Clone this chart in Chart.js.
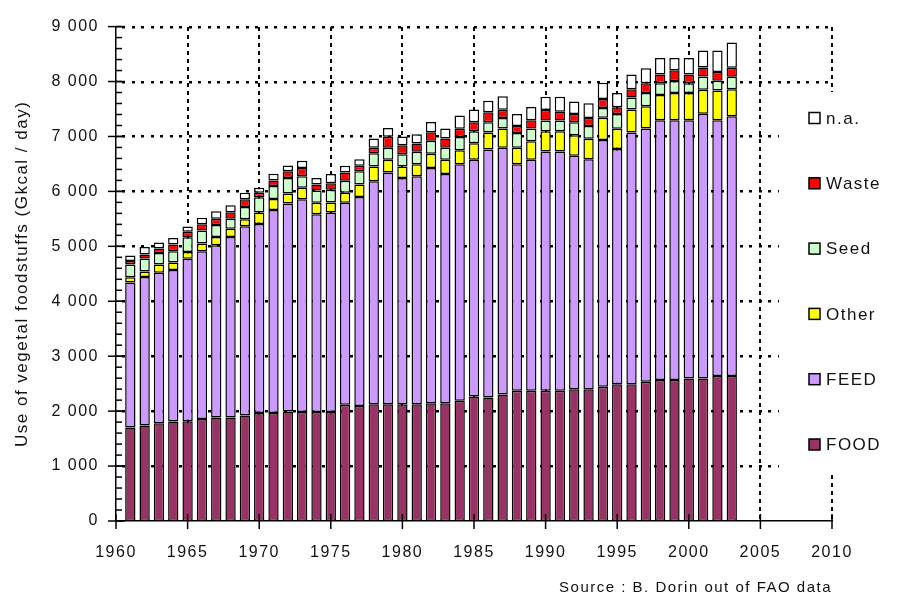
<!DOCTYPE html>
<html><head><meta charset="utf-8">
<script src="https://cdn.jsdelivr.net/npm/chart.js@4.4.1/dist/chart.umd.min.js"></script>
<style>html,body{margin:0;padding:0;background:#fff}#wrap{position:relative;width:899px;height:597px}</style>
</head><body><div id="wrap"><canvas id="c" width="899" height="597"></canvas></div>
<script>
const years = [1961,1962,1963,1964,1965,1966,1967,1968,1969,1970,1971,1972,1973,1974,1975,1976,1977,1978,1979,1980,1981,1982,1983,1984,1985,1986,1987,1988,1989,1990,1991,1992,1993,1994,1995,1996,1997,1998,1999,2000,2001,2002,2003];
const food  = [1700,1740,1780,1810,1815,1855,1885,1885,1920,1965, 1965,1995,1985,1985,1985,2115,2095,2125,2125,2125, 2125,2145,2145,2190,2265,2250,2305,2370,2370,2370, 2370,2400,2400,2445,2490,2490,2535,2565,2565,2595, 2595,2640,2640];
const feed  = [2640,2700,2740,2760,2960,3055,3135,3285,3445,3440, 3695,3785,3870,3600,3630,3680,3805,4060,4220,4120, 4150,4280,4170,4305,4310,4515,4490,4125,4205,4355, 4355,4250,4185,4490,4280,4580,4610,4730,4730,4700, 4820,4655,4730];
const other = [95,100,150,135,120,140,150,150,130,210, 200,180,210,210,185,180,225,270,230,210, 220,260,260,255,300,305,350,300,340,370, 370,370,375,405,370,420,405,460,495,495, 435,540,490];
const seed  = [235,240,210,205,270,240,220,180,220,280, 240,285,210,220,230,220,240,240,220,220, 225,235,220,240,220,190,190,270,230,195, 195,240,230,180,270,220,240,215,220,180, 240,180,225];
const waste = [65,70,80,125,100,110,110,120,140,80, 100,120,150,110,120,150,100,100,200,165, 150,155,170,150,165,180,150,125,150,190, 160,150,145,160,120,150,180,160,195,160, 165,160,165];
const na    = [100,140,110,115,95,120,140,130,120,90, 120,105,135,120,165,120,120,170,160,160, 170,190,180,240,230,210,245,220,240,245, 275,225,270,300,260,270,270,300,225,300, 310,390,460];

const seriesNames = ['FOOD','FEED','Other','Seed','Waste','n.a.'];
const xTickValues = [1960,1965,1970,1975,1980,1985,1990,1995,2000,2005,2010];
const xTickLabels = ['1960','1965','1970','1975','1980','1985','1990','1995','2000','2005','2010'];
const yTickValues = [0,1000,2000,3000,4000,5000,6000,7000,8000,9000];
const yTickLabels = ['0','1 000','2 000','3 000','4 000','5 000','6 000','7 000','8 000','9 000'];
const yTitle = 'Use of vegetal foodstuffs (Gkcal / day)';
const sourceText = 'Source : B. Dorin out of FAO data';

const FONT = "'Liberation Sans', Arial, sans-serif";
const TXT = '#111';
const colors = ['#993366','#CC99FF','#FFFF00','#CCFFCC','#FF0000','#FFFFFF'];
const seriesValues = [food, feed, other, seed, waste, na];

const datasets = seriesNames.map((name, k) => ({
  label: name,
  data: years.map((yr, i) => ({x: yr, y: seriesValues[k][i]})),
  backgroundColor: colors[k],
  borderColor: '#000',
  borderWidth: 1.5,
  borderSkipped: false,
  stack: 's',
  barPercentage: 0.9,
  categoryPercentage: 0.8
}));

const spacingPlugin = {
  id: 'spacing',
  beforeUpdate(chart){ chart.ctx.letterSpacing = '1.5px'; },
  beforeDraw(chart){ chart.ctx.letterSpacing = '1.5px'; }
};

const gridPlugin = {
  id: 'dottedGrid',
  beforeDatasetsDraw(chart){
    const ctx = chart.ctx;
    const xs = chart.scales.x, ys = chart.scales.y;
    const L = xs.getPixelForValue(xTickValues[0]);
    const R = xs.getPixelForValue(xTickValues[xTickValues.length - 1]);
    const T = ys.getPixelForValue(yTickValues[yTickValues.length - 1]);
    const B = ys.getPixelForValue(yTickValues[0]);
    ctx.save();
    ctx.fillStyle = '#000';
    ctx.beginPath();
    yTickValues.forEach(v => {
      if (v === yTickValues[0]) return;
      const hy = Math.round(ys.getPixelForValue(v));
      for (let hx = L + 6; hx < R; hx += 9.5) {
        ctx.rect(Math.round(hx), hy - 1, 3, 2.5);
      }
    });
    xTickValues.forEach(v => {
      if (v === xTickValues[0]) return;
      const vx = Math.round(xs.getPixelForValue(v));
      for (let vy = T; vy < B; vy += 8) {
        ctx.rect(vx - 1, Math.round(vy), 2, Math.min(4, B - vy));
      }
    });
    ctx.fill();
    ctx.restore();
  }
};

const ticksPlugin = {
  id: 'crossTicks',
  afterDatasetsDraw(chart){
    const {ctx, scales:{x, y}, chartArea:{left, bottom}} = chart;
    ctx.save();
    ctx.setLineDash([]);
    ctx.strokeStyle = '#000';
    ctx.lineWidth = 1.5;
    const line = (a,b,c,d) => { ctx.beginPath(); ctx.moveTo(a,b); ctx.lineTo(c,d); ctx.stroke(); };
    for (let v = 0; v <= 9000; v += 200) {
      const py = y.getPixelForValue(v);
      line(left, py, left + 6, py);
    }
    yTickValues.forEach(v => { const py = y.getPixelForValue(v); line(left - 8, py, left + 9, py); });
    xTickValues.forEach(v => { const px = x.getPixelForValue(v); line(px, bottom - 7, px, bottom + 8); });
    ctx.restore();
  }
};

const legendPlugin = {
  id: 'sideLegend',
  afterDraw(chart){
    const ctx = chart.ctx;
    ctx.save();
    ctx.setLineDash([]);
    // legend box (white, borderless) hides the grid behind it
    ctx.fillStyle = '#fff';
    ctx.fillRect(779, 92, 120, 382);
    ctx.letterSpacing = '1.5px';
    ctx.font = "17px " + FONT;
    ctx.textBaseline = 'middle';
    ctx.textAlign = 'left';
    const ds = chart.data.datasets;
    for (let k = 0; k < ds.length; k++) {
      const d = ds[ds.length - 1 - k];
      const cy = 118 + k * 65.3;
      ctx.fillStyle = d.backgroundColor;
      ctx.fillRect(809, cy - 5.5, 11, 11);
      ctx.strokeStyle = '#000';
      ctx.lineWidth = 1.5;
      ctx.strokeRect(809, cy - 5.5, 11, 11);
      ctx.fillStyle = TXT;
      ctx.fillText(d.label, 826, cy + 1);
    }
    ctx.restore();
  }
};

new Chart(document.getElementById('c'), {
  type: 'bar',
  data: { datasets },
  plugins: [spacingPlugin, gridPlugin, ticksPlugin, legendPlugin],
  options: {
    responsive: false,
    animation: false,
    layout: { padding: { top: 20, right: 67, left: 0, bottom: 0 } },
    plugins: { legend: { display: false }, tooltip: { enabled: false } },
    scales: {
      x: {
        type: 'linear', min: 1960, max: 2010, stacked: true, offset: false,
        afterBuildTicks: s => { s.ticks = xTickValues.map(v => ({value: v})); },
        ticks: { autoSkip: false, maxRotation: 0, padding: 22, color: TXT,
                 font: { family: FONT, size: 16 },
                 callback: v => xTickLabels[xTickValues.indexOf(v)] },
        grid: { display: false, drawTicks: false, offset: false },
        border: { display: true, color: '#000', width: 1.5 },
        afterFit: s => { s.height = 76; },
        title: { display: true, text: sourceText, align: 'end', color: TXT,
                 font: { family: FONT, size: 15 }, padding: { top: 0, bottom: 0 } }
      },
      y: {
        min: 0, max: 9000, stacked: true,
        afterBuildTicks: s => { s.ticks = yTickValues.map(v => ({value: v})); },
        ticks: { padding: 17, color: TXT, font: { family: FONT, size: 16 },
                 callback: v => yTickLabels[yTickValues.indexOf(v)] },
        grid: { display: false, drawTicks: false },
        border: { display: true, color: '#000', width: 1.5 },
        afterFit: s => { s.width = 116; },
        title: { display: true, text: yTitle, color: TXT,
                 font: { family: FONT, size: 17 }, padding: { top: 12, bottom: 0 } }
      }
    }
  }
});
</script></body></html>
